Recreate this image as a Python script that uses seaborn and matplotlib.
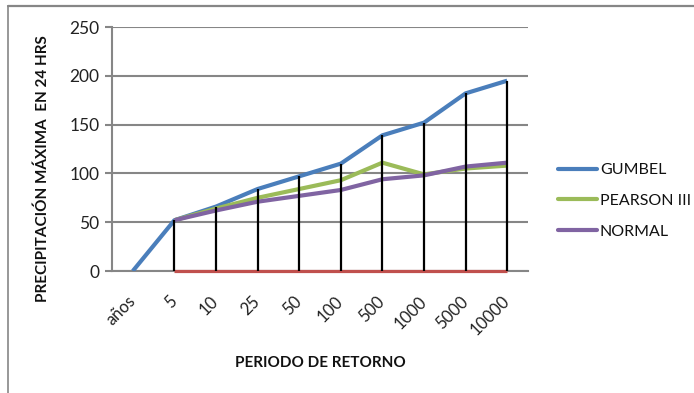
import numpy as np
import pandas as pd
import matplotlib
matplotlib.use("Agg")
import matplotlib.pyplot as plt
from matplotlib.lines import Line2D
import seaborn as sns

# Return periods (first slot is the header cell "años")
categories = ["años", "5", "10", "25", "50", "100", "500", "1000", "5000", "10000"]

# Maximum 24-hour precipitation by distribution
gumbel = [0, 52, 66, 84, 97, 110, 139, 152, 182, 195]
pearson_iii = [np.nan, 52, 64, 75, 84, 93, 111, 99, 105, 108]
normal = [np.nan, 52, 62, 71, 77, 83, 94, 98, 107, 111]
baseline = [np.nan, 0, 0, 0, 0, 0, 0, 0, 0, 0]

series_names = ["GUMBEL", "PEARSON III", "NORMAL"]
series_values = [gumbel, pearson_iii, normal]
colors = {"GUMBEL": "#4A7EBB", "PEARSON III": "#9BBB59", "NORMAL": "#8064A2"}

sns.set_theme(style="white")
plt.rcParams["font.family"] = ["Lato", "DejaVu Sans"]

W, H = 694, 393
fig = plt.figure(figsize=(W / 100, H / 100), dpi=100)
ax = fig.add_axes([112 / W, 1 - 271 / H, (528 - 112) / W, (271 - 27) / H])

pos = np.arange(len(categories))
rows = []
for name, vals in zip(series_names, series_values):
    for p, v in zip(pos, vals):
        rows.append({"pos": p, "value": v, "serie": name})
df = pd.DataFrame(rows)

grid_c = "#868686"
ax.set_ylim(0, 250)
ax.set_xlim(-0.5, len(categories) - 0.5)
ax.set_yticks(np.arange(0, 251, 50))
ax.yaxis.grid(True, color=grid_c, linewidth=1.5)
ax.set_axisbelow(True)

sns.lineplot(data=df, x="pos", y="value", hue="serie", palette=colors,
             hue_order=series_names, linewidth=3.0, ax=ax, sort=False,
             legend=False, zorder=3)
for line in ax.lines:
    line.set_solid_capstyle("butt")

# Zero baseline series, drawn over the category axis line
ax.plot(pos, baseline, color="#C0504D", linewidth=2.3, zorder=3.5,
        solid_capstyle="butt", clip_on=False)

# High-low lines from the top series to the lowest one at each period
all_vals = np.array([gumbel, pearson_iii, normal, baseline], dtype=float)
highs = np.nanmax(all_vals, axis=0)
lows = np.nanmin(all_vals, axis=0)
ax.vlines(pos[1:], lows[1:], highs[1:], colors="black", linewidth=1.6,
          zorder=4, clip_on=False)

for s in ["top", "right"]:
    ax.spines[s].set_visible(False)
for s in ["left", "bottom"]:
    ax.spines[s].set_color(grid_c)
    ax.spines[s].set_linewidth(1.5)

ax.set_xticks(pos)
ax.set_xticklabels(categories, rotation=45, ha="right", va="center",
                   rotation_mode="anchor", fontsize=12, color="#222222")
ax.tick_params(axis="x", length=0, pad=20)
ax.tick_params(axis="y", length=5, width=1.5, color=grid_c, pad=4,
               labelsize=12.5, labelcolor="#222222", left=True)

ax.set_xlabel("PERIODO DE RETORNO", fontsize=11, fontweight="bold",
              color="#111111")
ax.set_ylabel("PRECIPITACIÓN MÁXIMA  EN 24 HRS", fontsize=11,
              fontweight="bold", color="#111111")
ax.xaxis.set_label_coords((320 - 112) / 416, (271 - 363) / 244)
ax.xaxis.label.set_va("center")
ax.yaxis.set_label_coords((43 - 112) / 416, (271 - 169) / 244)
ax.yaxis.label.set_va("center")

handles = [Line2D([0], [0], color=colors[n], linewidth=3.0) for n in series_names]
leg = fig.legend(handles, series_names, loc="center left",
                 bbox_to_anchor=(552 / W, 1 - 201 / H), frameon=False,
                 fontsize=11.5, handlelength=2.4, handletextpad=0.2,
                 labelspacing=1.05, borderaxespad=0)
for t in leg.get_texts():
    t.set_color("#111111")

# Chart area border (top and left edges)
fig.add_artist(Line2D([8 / W, 8 / W], [0, 1 - 6 / H], color=grid_c,
                      linewidth=1.2, transform=fig.transFigure))
fig.add_artist(Line2D([8 / W, 1], [1 - 6 / H, 1 - 6 / H], color=grid_c,
                      linewidth=1.6, transform=fig.transFigure))

fig.savefig("out.png", dpi=100, facecolor="white")
